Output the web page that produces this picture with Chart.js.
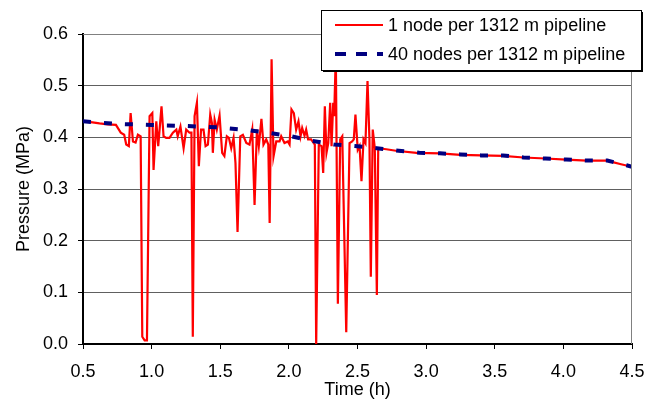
<!DOCTYPE html>
<html>
<head>
<meta charset="utf-8">
<script src="https://cdn.jsdelivr.net/npm/chart.js@4.4.1/dist/chart.umd.min.js"></script>
<style>
  html, body { margin: 0; padding: 0; background: #fff; }
  #wrap { width: 658px; height: 401px; }
</style>
</head>
<body>
<div id="wrap"><canvas id="mychart" width="658" height="401"></canvas></div>
<script>
// series labels
let coarseLabel = "1 node per 1312 m pipeline";
let fineLabel = "40 nodes per 1312 m pipeline";

// 1 node per pipeline - time (h) and pressure (MPa)
let coarseTime = [
  0.50, 0.57, 0.62, 0.68, 0.74, 0.775, 0.80, 0.815, 0.834, 0.847, 0.864, 0.883, 0.90, 0.92,
  0.932, 0.949, 0.966, 0.985, 1.005, 1.014, 1.034, 1.048, 1.072, 1.087, 1.106, 1.13, 1.155,
  1.18, 1.19, 1.21, 1.233, 1.252, 1.276, 1.29, 1.30, 1.313, 1.33, 1.344, 1.36, 1.378, 1.393,
  1.41, 1.427, 1.439, 1.446, 1.459, 1.475, 1.495, 1.514, 1.53, 1.548, 1.563, 1.58, 1.597,
  1.611, 1.626, 1.646, 1.665, 1.69, 1.713, 1.733, 1.75, 1.767, 1.781, 1.80, 1.815, 1.835,
  1.85, 1.86, 1.874, 1.888, 1.908, 1.932, 1.944, 1.968, 1.992, 2.005, 2.019, 2.036, 2.053,
  2.07, 2.085, 2.097, 2.114, 2.126, 2.14, 2.162, 2.189, 2.199, 2.218, 2.238, 2.25, 2.262,
  2.274, 2.287, 2.301, 2.311, 2.323, 2.33, 2.342, 2.357, 2.374, 2.389, 2.418, 2.442, 2.461,
  2.473, 2.485, 2.502, 2.515, 2.529, 2.544, 2.558, 2.573, 2.587, 2.597, 2.611, 2.626, 2.641,
  2.651, 2.71, 2.78, 2.93, 3.1, 3.25, 3.4, 3.56, 3.71, 3.87, 4.02, 4.17, 4.32, 4.36, 4.42, 4.5
];
let coarsePressure = [
  0.431, 0.429, 0.427, 0.425, 0.424, 0.409, 0.405, 0.386, 0.383, 0.447, 0.392, 0.390, 0.405, 0.402,
  0.014, 0.007, 0.007, 0.441, 0.447, 0.337, 0.431, 0.383, 0.460, 0.402, 0.399, 0.399, 0.409,
  0.415, 0.402, 0.421, 0.379, 0.415, 0.409, 0.409, 0.014, 0.441, 0.467, 0.344, 0.415, 0.415, 0.383,
  0.386, 0.444, 0.428, 0.370, 0.434, 0.415, 0.442, 0.370, 0.364, 0.402, 0.399, 0.379, 0.399,
  0.350, 0.217, 0.402, 0.405, 0.389, 0.386, 0.415, 0.269, 0.415, 0.383, 0.436, 0.386, 0.396,
  0.386, 0.234, 0.551, 0.363, 0.392, 0.392, 0.402, 0.389, 0.392, 0.386, 0.454, 0.447, 0.415,
  0.431, 0.402, 0.418, 0.403, 0.415, 0.396, 0.396, 0.386, 0.000, 0.386, 0.383, 0.331, 0.460,
  0.370, 0.389, 0.467, 0.383, 0.467, 0.441, 0.560, 0.078, 0.396, 0.402, 0.023, 0.389, 0.392,
  0.396, 0.444, 0.376, 0.383, 0.315, 0.396, 0.389, 0.509, 0.396, 0.130, 0.415, 0.379, 0.095,
  0.379, 0.377, 0.374, 0.370, 0.369, 0.366, 0.365, 0.364, 0.361, 0.359, 0.357, 0.355, 0.355, 0.352, 0.348, 0.343
];

// 40 nodes per pipeline
let fineTime = [
  0.5, 0.75, 1.0, 1.25, 1.5, 1.7, 1.87, 2.02, 2.17, 2.33, 2.48, 2.64, 2.8, 2.95, 3.1, 3.25,
  3.4, 3.56, 3.71, 3.87, 4.02, 4.17, 4.32, 4.46, 4.5
];
let finePressure = [
  0.431, 0.426, 0.424, 0.422, 0.419, 0.414, 0.408, 0.402, 0.393, 0.386, 0.383, 0.379, 0.374,
  0.370, 0.369, 0.367, 0.365, 0.365, 0.361, 0.359, 0.357, 0.355, 0.355, 0.346, 0.343
];

// axes
let timeTicks = [0.5, 1.0, 1.5, 2.0, 2.5, 3.0, 3.5, 4.0, 4.5];
let pressureTicks = [0.0, 0.1, 0.2, 0.3, 0.4, 0.5, 0.6];

const FONT = "'Liberation Sans', Arial, sans-serif";
Chart.defaults.font.family = FONT;
Chart.defaults.font.size = 18;
Chart.defaults.color = "#000";

function toPoints(xs, ys) {
  return xs.map((x, i) => ({ x: x, y: ys[i] }));
}

//frame on top/right plus the excel-like legend box sitting over the plot
const framePlugin = {
  id: "frame",
  afterDatasetsDraw(chart) {
    const ctx = chart.ctx;
    const a = chart.chartArea;
    ctx.save();
    ctx.strokeStyle = "#808080";
    ctx.lineWidth = 1;
    ctx.beginPath();
    ctx.moveTo(a.left, a.top + 0.5);
    ctx.lineTo(a.right - 0.5, a.top + 0.5);
    ctx.lineTo(a.right - 0.5, a.bottom);
    ctx.stroke();
    ctx.restore();
  },
  afterDraw(chart) {
    const ctx = chart.ctx;
    ctx.save();
    // shadow
    ctx.fillStyle = "#000";
    ctx.fillRect(323, 12, 320, 60);
    ctx.fillStyle = "#fff";
    ctx.fillRect(321, 10, 320, 60);
    ctx.strokeStyle = "#000";
    ctx.lineWidth = 1;
    ctx.strokeRect(321.5, 10.5, 320, 60);

    ctx.strokeStyle = "#ff0000";
    ctx.lineWidth = 2;
    ctx.beginPath();
    ctx.moveTo(335, 25);
    ctx.lineTo(383, 25);
    ctx.stroke();

    ctx.strokeStyle = "#000080";
    ctx.lineWidth = 4;
    ctx.setLineDash([11, 10]);
    ctx.beginPath();
    ctx.moveTo(335, 54);
    ctx.lineTo(383, 54);
    ctx.stroke();
    ctx.setLineDash([]);

    ctx.fillStyle = "#000";
    ctx.font = "18px " + FONT;
    ctx.textBaseline = "middle";
    ctx.fillText(coarseLabel, 388, 26);
    ctx.fillText(fineLabel, 388, 55);
    ctx.restore();
  },
};

let data = {
  datasets: [
    {
      label: coarseLabel,
      data: toPoints(coarseTime, coarsePressure),
      borderColor: "#ff0000",
      borderWidth: 2.2,
      pointRadius: 0,
      tension: 0,
      order: 1,
    },
    {
      label: fineLabel,
      data: toPoints(fineTime, finePressure),
      borderColor: "#000080",
      borderWidth: 4,
      borderDash: [8, 13],
      pointRadius: 0,
      tension: 0,
      order: 0,
    },
  ],
};

let options = {
  responsive: false,
  animation: false,
  layout: { padding: { left: 0, top: 34, right: 26, bottom: 0 } },
  plugins: {
    legend: { display: false },
    tooltip: { enabled: false },
  },
  scales: {
    x: {
      type: "linear",
      min: 0.5,
      max: 4.5,
      afterBuildTicks: (s) => { s.ticks = timeTicks.map((v) => ({ value: v })); },
      afterFit: (s) => { s.height = 57; },
      ticks: {
        callback: (v) => v.toFixed(1),
        padding: 12,
        maxRotation: 0,
        color: "#000",
      },
      grid: {
        drawOnChartArea: false,
        tickLength: 5,
        tickColor: "#000",
      },
      border: { color: "#000", width: 2 },
      title: {
        display: true,
        text: "Time (h)",
        color: "#000",
        padding: { top: 0, bottom: 0 },
      },
    },
    y: {
      min: 0,
      max: 0.6,
      afterBuildTicks: (s) => { s.ticks = pressureTicks.map((v) => ({ value: v })); },
      afterFit: (s) => { s.width = 83; },
      ticks: {
        callback: (v) => v.toFixed(1),
        padding: 10,
        color: "#000",
      },
      grid: {
        color: "#606060",
        lineWidth: 1,
        tickLength: 5,
        tickColor: "#000",
      },
      border: { color: "#000", width: 2 },
      title: {
        display: true,
        text: "Pressure (MPa)",
        color: "#000",
        padding: { top: 13, bottom: 0 },
      },
    },
  },
};

const config = {
  type: "line",
  data: data,
  options: options,
  plugins: [framePlugin],
};
let pressureChart = new Chart(document.getElementById("mychart"), config);
</script>
</body>
</html>
